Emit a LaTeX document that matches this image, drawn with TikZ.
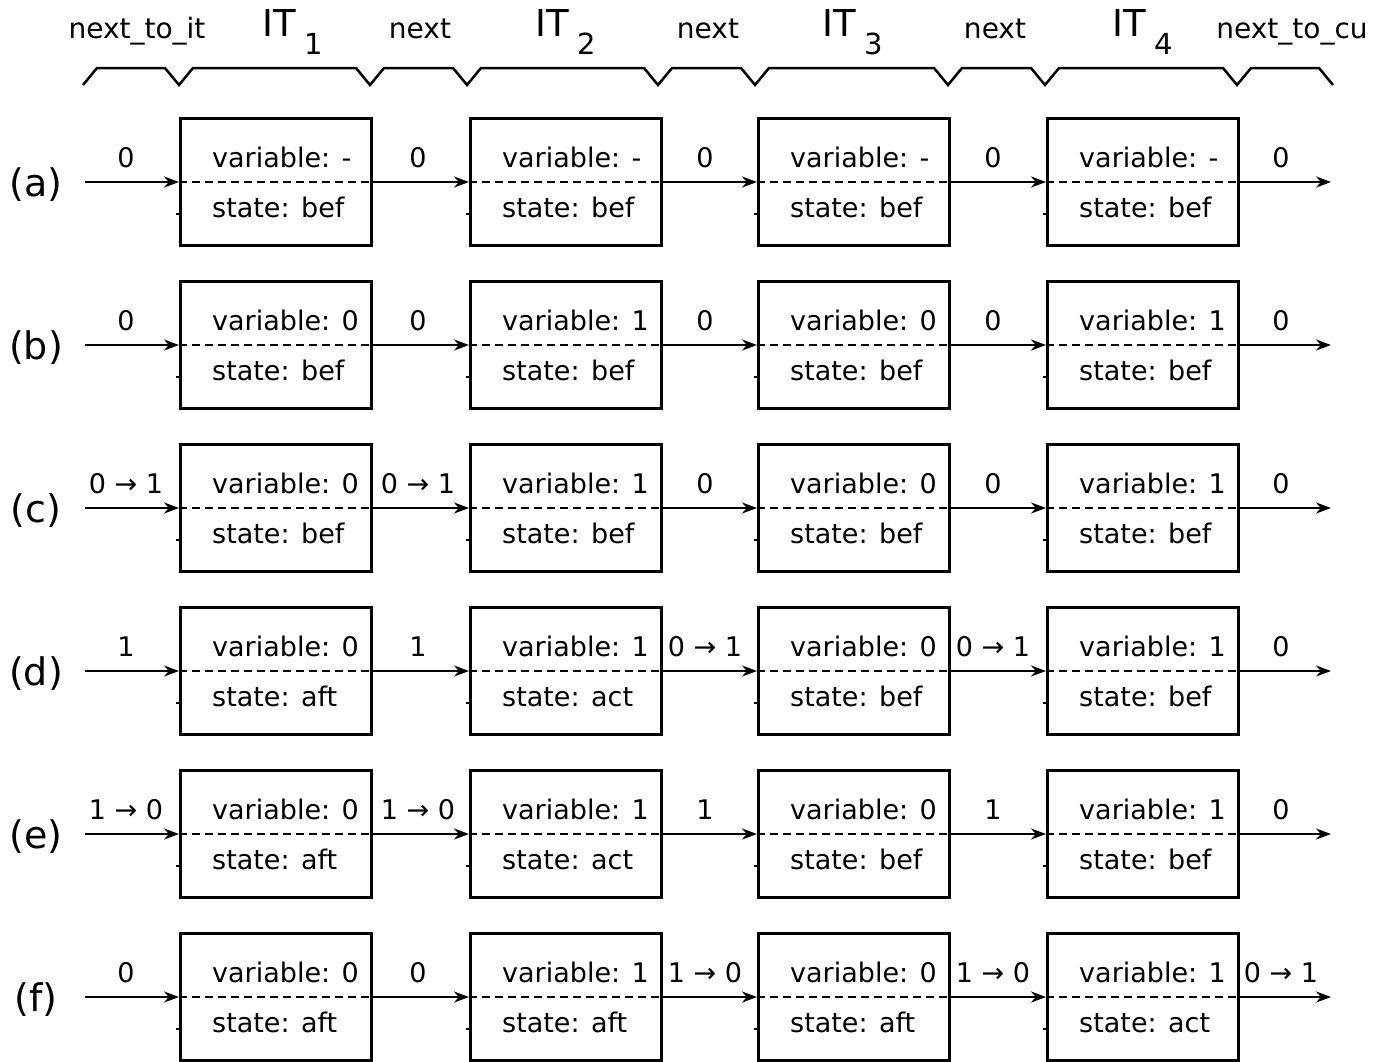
\documentclass[tikz,border=0pt]{standalone}
\usepackage{fontspec}
\setmainfont{DejaVu Sans}
\usetikzlibrary{arrows.meta}
\tikzset{
  box/.style={draw,line width=3pt,minimum width=191pt,minimum height=127pt,inner sep=0pt},
  dsh/.style={line width=2.5pt,dash pattern=on 8pt off 5pt},
  arr/.style={line width=2.5pt,-{Stealth[length=15pt,width=11pt]}},
  txt/.style={inner sep=0pt,font=\fontsize{27}{30}\selectfont},
  toptxt/.style={inner sep=0pt,font=\fontsize{28}{30}\selectfont},
  rowtxt/.style={inner sep=0pt,font=\fontsize{38}{40}\selectfont},
  tick/.style={line width=2pt},
  brace/.style={line width=2.5pt}
}
\newcommand{\itlab}[1]{{\fontsize{37}{40}\selectfont IT}\hspace{9pt}\raisebox{-18pt}{\fontsize{29}{30}\selectfont #1}}
\newcommand{\mkboxes}[6]{%
  \foreach \c/\cx/\v in {1/276/#3,2/566/#4,3/854/#5,4/1143/#6}{
    \node[box] (b#1\c) at (\cx,#2) {};
    \draw[dsh] (b#1\c.west) -- (b#1\c.east);
    \draw[tick] (\cx-100,#2+32) -- (\cx-96,#2+32);
    \node[txt,anchor=base west] (v#1\c) at (\cx-64,#2-15) {variable: \v};
  }}
\newcommand{\mkstates}[6]{%
  \foreach \c/\cx/\s in {1/276/#3,2/566/#4,3/854/#5,4/1143/#6}{
    \node[txt,anchor=base west] (s#1\c) at (\cx-64,#2+35) {state: \s};
  }}
\newcommand{\mkarrows}[7]{%
  \coordinate (st#1) at (85,#2);
  \coordinate (en#1) at (1331,#2);
  \draw[arr] (st#1) -- (b#11.west);
  \draw[arr] (b#11.east) -- (b#12.west);
  \draw[arr] (b#12.east) -- (b#13.west);
  \draw[arr] (b#13.east) -- (b#14.west);
  \draw[arr] (b#14.east) -- (en#1);
  \node[txt,anchor=base] (l#11) at (126,#2-15) {#3};
  \node[txt,anchor=base] (l#12) at (418,#2-15) {#4};
  \node[txt,anchor=base] (l#13) at (705,#2-15) {#5};
  \node[txt,anchor=base] (l#14) at (993,#2-15) {#6};
  \node[txt,anchor=base] (l#15) at (1281,#2-15) {#7};
}
\begin{document}
\begin{tikzpicture}[x=1pt,y=-1pt]
\useasboundingbox (0,0) rectangle (1378,1061);
% top labels
\node[toptxt,anchor=base] (t1) at (137,38) {next\_to\_it};
\node[toptxt,anchor=base] (t2) at (420,38) {next};
\node[toptxt,anchor=base] (t3) at (708,38) {next};
\node[toptxt,anchor=base] (t4) at (995,38) {next};
\node[toptxt,anchor=base] (t5) at (1292,38) {next\_to\_cu};
\node[inner sep=0pt,anchor=base west] (i1) at (262,36) {\itlab{1}};
\node[inner sep=0pt,anchor=base west] (i2) at (535,36) {\itlab{2}};
\node[inner sep=0pt,anchor=base west] (i3) at (822,36) {\itlab{3}};
\node[inner sep=0pt,anchor=base west] (i4) at (1112,36) {\itlab{4}};
% braces
\draw[brace] (83,85) -- (97,68)
  -- (165,68) -- (179,85) -- (193,68)
  -- (356,68) -- (370,85) -- (384,68)
  -- (453,68) -- (467,85) -- (481,68)
  -- (644,68) -- (658,85) -- (672,68)
  -- (741,68) -- (755,85) -- (769,68)
  -- (934,68) -- (948,85) -- (962,68)
  -- (1031,68) -- (1045,85) -- (1059,68)
  -- (1223,68) -- (1237,85) -- (1251,68)
  -- (1319,68) -- (1333,85);
% row labels
\node[rowtxt] (ra) at (36,185) {(a)};
\node[rowtxt] (rb) at (36,348) {(b)};
\node[rowtxt] (rc) at (36,511) {(c)};
\node[rowtxt] (rd) at (36,674) {(d)};
\node[rowtxt] (re) at (36,837) {(e)};
\node[rowtxt] (rf) at (36,1000) {(f)};
% rows
\mkboxes{a}{182}{-}{-}{-}{-}
\mkstates{a}{182}{bef}{bef}{bef}{bef}
\mkarrows{a}{182}{0}{0}{0}{0}{0}
\mkboxes{b}{345}{0}{1}{0}{1}
\mkstates{b}{345}{bef}{bef}{bef}{bef}
\mkarrows{b}{345}{0}{0}{0}{0}{0}
\mkboxes{c}{508}{0}{1}{0}{1}
\mkstates{c}{508}{bef}{bef}{bef}{bef}
\mkarrows{c}{508}{0 → 1}{0 → 1}{0}{0}{0}
\mkboxes{d}{671}{0}{1}{0}{1}
\mkstates{d}{671}{aft}{act}{bef}{bef}
\mkarrows{d}{671}{1}{1}{0 → 1}{0 → 1}{0}
\mkboxes{e}{834}{0}{1}{0}{1}
\mkstates{e}{834}{aft}{act}{bef}{bef}
\mkarrows{e}{834}{1 → 0}{1 → 0}{1}{1}{0}
\mkboxes{f}{997}{0}{1}{0}{1}
\mkstates{f}{997}{aft}{aft}{aft}{act}
\mkarrows{f}{997}{0}{0}{1 → 0}{1 → 0}{0 → 1}
\end{tikzpicture}
\end{document}
